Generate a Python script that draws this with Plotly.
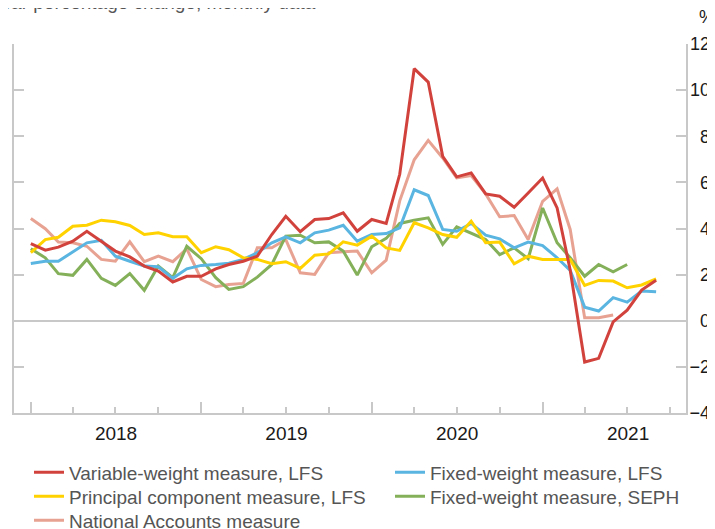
import pandas as pd
import plotly.graph_objects as go

# monthly observations, Jan 2018 - Sep 2021
months = pd.date_range("2018-01-01", periods=45, freq="MS").strftime("%Y-%m-%d").tolist()

variable_lfs = [3.34, 3.06, 3.19, 3.45, 3.88, 3.45, 3.02, 2.77, 2.37, 2.15, 1.68, 1.93,
                1.93, 2.25, 2.44, 2.58, 2.80, 3.74, 4.53, 3.86, 4.39, 4.43, 4.68, 3.88,
                4.39, 4.22, 6.35, 10.93, 10.35, 7.13, 6.24, 6.41, 5.50, 5.40, 4.92, 5.54,
                6.19, 4.89, 2.20, -1.79, -1.63, -0.05, 0.46, 1.33, 1.76]
fixed_lfs = [2.48, 2.58, 2.58, 2.99, 3.38, 3.49, 2.80, 2.58, 2.37, 2.34, 1.84, 2.25,
             2.40, 2.44, 2.49, 2.66, 2.95, 3.38, 3.64, 3.38, 3.81, 3.93, 4.14, 3.45,
             3.74, 3.78, 4.03, 5.68, 5.43, 3.96, 3.88, 4.22, 3.71, 3.55, 3.16, 3.41,
             3.26, 2.73, 2.18, 0.59, 0.42, 1.00, 0.81, 1.29, 1.26]
principal_lfs = [2.95, 3.52, 3.62, 4.10, 4.14, 4.36, 4.29, 4.13, 3.74, 3.81, 3.64, 3.64,
                 2.95, 3.21, 3.08, 2.73, 2.66, 2.47, 2.56, 2.27, 2.84, 2.90, 3.42, 3.28,
                 3.67, 3.16, 3.05, 4.25, 4.03, 3.74, 3.62, 4.32, 3.38, 3.41, 2.47, 2.80,
                 2.66, 2.66, 2.66, 1.53, 1.75, 1.72, 1.43, 1.55, 1.82]
fixed_seph = [3.12, 2.73, 2.04, 1.97, 2.66, 1.84, 1.53, 2.05, 1.32, 2.37, 1.87, 3.23,
              2.69, 1.87, 1.36, 1.48, 1.89, 2.44, 3.67, 3.71, 3.38, 3.42, 3.02, 1.98,
              3.21, 3.57, 4.22, 4.36, 4.46, 3.31, 4.07, 3.78, 3.52, 2.87, 3.16, 2.69,
              4.89, 3.38, 2.73, 1.93, 2.44, 2.12, 2.44]
national_acc = [4.43, 3.99, 3.41, 3.38, 3.23, 2.66, 2.58, 3.42, 2.56, 2.80, 2.56, 3.12,
                1.79, 1.48, 1.57, 1.62, 3.16, 3.16, 3.52, 2.08, 2.01, 2.95, 2.99, 3.02,
                2.08, 2.63, 5.20, 6.98, 7.82, 7.06, 6.20, 6.30, 5.50, 4.51, 4.56, 3.52,
                5.18, 5.72, 3.96, 0.13, 0.13, 0.25]

y_ticks = [-4, -2, 0, 2, 4, 6, 8, 10, 12]

# (name, values, colour, legend id); listed in drawing order
series = [
    ("National Accounts measure", national_acc, "#e8a292", "legend5"),
    ("Fixed-weight measure, SEPH", fixed_seph, "#84b05a", "legend4"),
    ("Fixed-weight measure, LFS", fixed_lfs, "#5ab5e1", "legend2"),
    ("Principal component measure, LFS", principal_lfs, "#ffd200", "legend3"),
    ("Variable-weight measure, LFS", variable_lfs, "#d2423d", "legend"),
]

fig = go.Figure()
for name, vals, col, leg in series:
    fig.add_trace(go.Scatter(x=months[:len(vals)], y=vals, name=name, mode="lines",
                             line=dict(color=col, width=3), legend=leg))

# empty trace so the label-only axis (right-aligned numbers) gets drawn
fig.add_trace(go.Scatter(x=[], y=[], yaxis="y2", showlegend=False, hoverinfo="skip"))

grey = "#c8c8c8"
font = "Liberation Sans, Arial, sans-serif"


def legend_box(x, y):
    return dict(x=x, y=y, xanchor="left", yanchor="top", itemwidth=30,
                font=dict(size=19, color="#555"), bgcolor="rgba(0,0,0,0)")


# two columns, three rows
col_x = [0.02937, 0.53427]
row_y = [-0.1095, -0.1745, -0.2396]

fig.update_layout(
    width=715, height=529,
    showlegend=True,
    margin=dict(l=0, r=0, t=36, b=124, autoexpand=False),
    plot_bgcolor="white", paper_bgcolor="white",
    font=dict(family=font, size=18, color="#1a1a1a"),
    xaxis=dict(
        type="date", domain=[0.008392, 0.948252],
        range=["2017-11-26", "2021-11-04"],
        tick0="2018-01-01", dtick="M12", tickformat="%Y", ticklabelmode="period",
        ticks="inside", ticklen=11, tickwidth=1.5, tickcolor=grey,
        minor=dict(dtick="M3", ticks="inside", ticklen=6, tickwidth=1.5, tickcolor=grey),
        showline=True, linecolor=grey, linewidth=1.5, showgrid=False,
        ticklabelstandoff=2, tickfont=dict(size=19),
    ),
    yaxis=dict(
        range=[-4, 12], tickvals=y_ticks, side="right",
        showticklabels=False, ticks="inside", ticklen=10, tickwidth=1.5, tickcolor=grey,
        showline=True, linecolor=grey, linewidth=1.5, mirror="ticks",
        showgrid=False, zeroline=True, zerolinecolor=grey, zerolinewidth=1.5,
    ),
    yaxis2=dict(
        range=[-4, 12], tickvals=y_ticks, overlaying="y", anchor="free",
        position=0.9818, side="left", showline=False, showgrid=False,
        zeroline=False, ticks="", ticklabelstandoff=0,
    ),
    legend=legend_box(col_x[0], row_y[0]),
    legend2=legend_box(col_x[1], row_y[0]),
    legend3=legend_box(col_x[0], row_y[1]),
    legend4=legend_box(col_x[1], row_y[1]),
    legend5=legend_box(col_x[0], row_y[2]),
    annotations=[
        dict(text="Year-over-year percentage change, monthly data", xref="paper", yref="paper",
             x=0.4336, y=1.0775, xanchor="right", yanchor="bottom", showarrow=False,
             font=dict(size=19, color="#555")),
        dict(text="%", xref="paper", yref="paper", x=0.9776, y=1.0732,
             xanchor="center", yanchor="middle", showarrow=False,
             font=dict(size=18, color="#1a1a1a")),
    ],
)

fig.write_html("out.html")
